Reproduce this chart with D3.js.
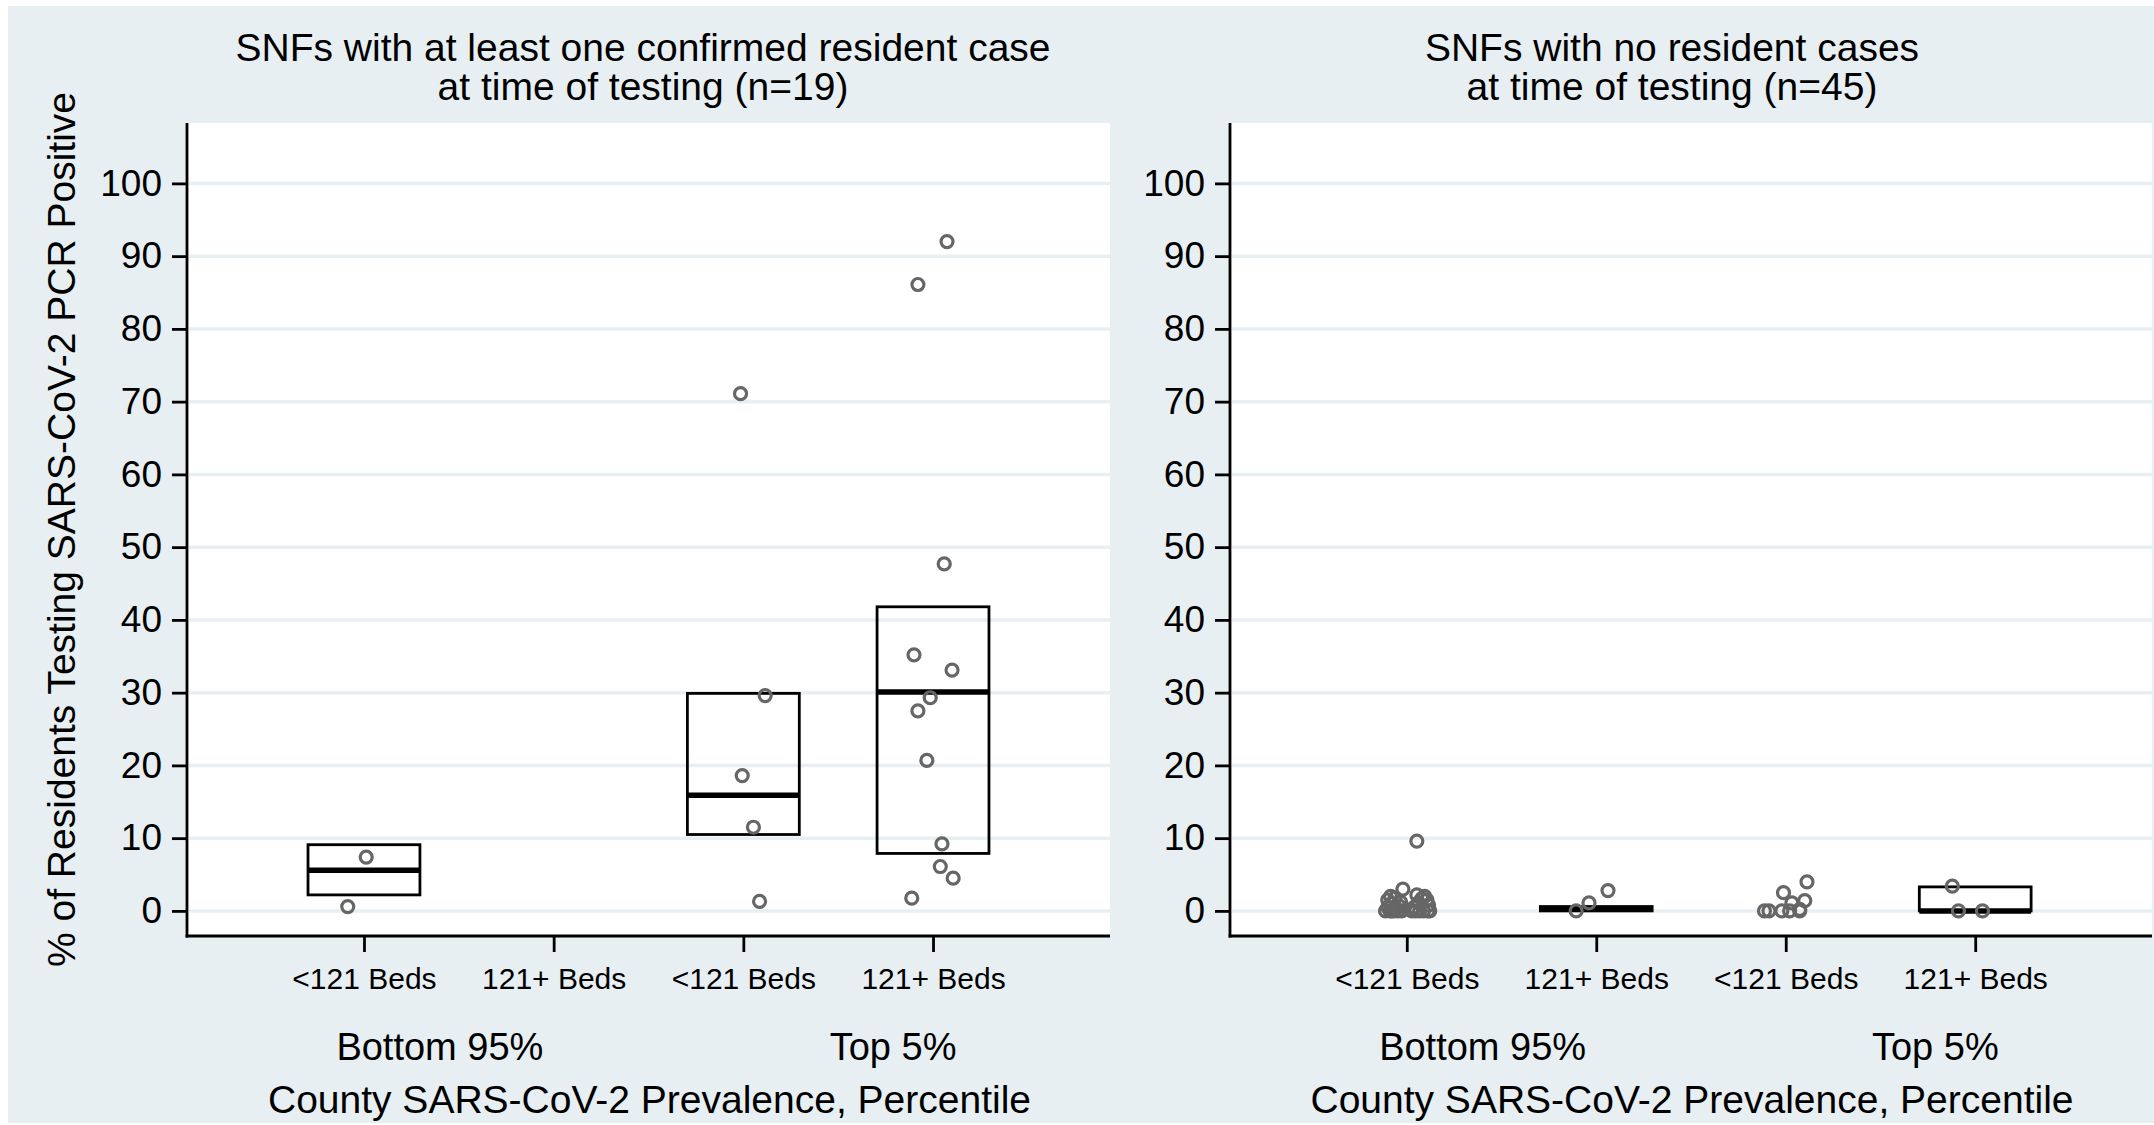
<!DOCTYPE html>
<html>
<head>
<meta charset="utf-8">
<script src="https://cdn.jsdelivr.net/npm/d3@7"></script>
<style>
body { margin: 0; background: #fff; }
svg text { font-family: "Liberation Sans", Arial, Helvetica, sans-serif; fill: #000; }
</style>
</head>
<body>
<div id="graph"></div>
<script>
// categories along the x axis of each panel
var catKeys = ["bot_small", "bot_large", "top_small", "top_large"];
var bedLabels = ["<121 Beds", "121+ Beds", "<121 Beds", "121+ Beds"];
var prevLabels = ["Bottom 95%", "Top 5%"];
var yTicks = [0, 10, 20, 30, 40, 50, 60, 70, 80, 90, 100];

var titleLeft = ["SNFs with at least one confirmed resident case", "at time of testing (n=19)"];
var titleRight = ["SNFs with no resident cases", "at time of testing (n=45)"];
var xTitle = "County SARS-CoV-2 Prevalence, Percentile";
var yTitle = "% of Residents Testing SARS-CoV-2 PCR Positive";

// boxes: [q1, median, q3] per category, null = not drawn
var boxesLeft = [[2.2, 5.6, 9.1], null, [10.5, 15.9, 29.9], [7.9, 30.1, 41.8]];
var boxesRight = [null, [0, 0.3, 0.6], null, [0, 0, 3.3]];

// points: [category, % positive, jitter as share of half box width]
var pointsLeft = [
  [0, 7.4, 0.04], [0, 0.6, -0.29],
  [2, 71.1, -0.05], [2, 29.6, 0.39], [2, 18.6, -0.02], [2, 11.5, 0.18], [2, 1.3, 0.29],
  [3, 92.0, 0.25], [3, 86.1, -0.27], [3, 47.7, 0.20], [3, 35.2, -0.34], [3, 33.1, 0.34],
  [3, 29.3, -0.05], [3, 27.5, -0.27], [3, 20.7, -0.11], [3, 9.2, 0.16], [3, 6.1, 0.13],
  [3, 4.5, 0.36], [3, 1.75, -0.38]
];
var pointsRight = [
  [0, 3.0, -0.07], [0, 9.6, 0.18],
  [0, 0, -0.38], [0, 0, -0.30], [0, 0, -0.23], [0, 0, -0.16], [0, 0, -0.09],
  [0, 0.5, -0.34], [0, 1.0, -0.27], [0, 1.5, -0.34], [0, 1.8, -0.21], [0, 0.7, -0.14],
  [0, 1.2, -0.11], [0, 0.3, -0.20], [0, 2.0, -0.29], [0, 0, -0.27],
  [0, 0, 0.09], [0, 0, 0.16], [0, 0, 0.23], [0, 0, 0.30], [0, 0, 0.38], [0, 0, 0.41],
  [0, 0.5, 0.13], [0, 1.1, 0.21], [0, 1.7, 0.27], [0, 2.2, 0.18], [0, 1.5, 0.36],
  [0, 0.8, 0.39], [0, 2.0, 0.32],
  [1, 0, -0.36], [1, 1.1, -0.13], [1, 2.8, 0.21],
  [2, 0, -0.38], [2, 0, -0.30], [2, 0, -0.07], [2, 0, 0.07], [2, 0, 0.25],
  [2, 2.5, -0.04], [2, 1.1, 0.11], [2, 1.4, 0.34], [2, 4.0, 0.38], [2, 0.2, 0.25],
  [3, 3.4, -0.41], [3, 0, -0.30], [3, 0, 0.13]
];

var w = 2154,
    h = 1125;
var bg = "#e8eff2";
// (window.top is read-only, so use other names)
var plotTop = 123, plotBottom = 936;

var vis = d3.select("#graph").append("svg")
    .attr("width", w)
    .attr("height", h);

vis.append("rect")
    .attr("x", 8).attr("y", 6)
    .attr("width", w - 8).attr("height", h - 8)
    .attr("fill", bg);

var y = d3.scaleLinear().domain([-3.45, 108.3]).range([plotBottom, plotTop]);

function drawPanel(x0, x1, title, titleX, boxes, points, showYTitle) {
  var g = vis.append("g");
  var x = d3.scalePoint().domain(catKeys).range([x0, x1]).padding(0.933);
  var boxW = x.step() * 0.59;
  var jit = d3.scaleLinear().domain([-1, 1]).range([-boxW / 2, boxW / 2]);

  g.append("rect")
      .attr("x", x0).attr("y", plotTop)
      .attr("width", x1 - x0).attr("height", plotBottom - plotTop)
      .attr("fill", "#fff");

  // grid lines
  g.selectAll(".grid")
      .data(yTicks)
      .enter()
      .append("line")
      .attr("x1", x0 + 2).attr("x2", x1)
      .attr("y1", function(d) { return y(d); })
      .attr("y2", function(d) { return y(d); })
      .attr("stroke", bg)
      .attr("stroke-width", 3.5);

  // boxes
  var bx = boxes.map(function(b, i) { return {b: b, k: catKeys[i]}; })
      .filter(function(d) { return d.b; });
  g.selectAll(".box")
      .data(bx)
      .enter()
      .append("rect")
      .attr("x", function(d) { return x(d.k) - boxW / 2; })
      .attr("y", function(d) { return y(d.b[2]); })
      .attr("width", boxW)
      .attr("height", function(d) { return y(d.b[0]) - y(d.b[2]); })
      .attr("fill", "none")
      .attr("stroke", "#000")
      .attr("stroke-width", 2.8);
  g.selectAll(".med")
      .data(bx)
      .enter()
      .append("line")
      .attr("x1", function(d) { return x(d.k) - boxW / 2; })
      .attr("x2", function(d) { return x(d.k) + boxW / 2; })
      .attr("y1", function(d) { return y(d.b[1]); })
      .attr("y2", function(d) { return y(d.b[1]); })
      .attr("stroke", "#000")
      .attr("stroke-width", 5.5);

  // points
  g.selectAll(".pt")
      .data(points)
      .enter()
      .append("circle")
      .attr("cx", function(d) { return x(catKeys[d[0]]) + jit(d[2]); })
      .attr("cy", function(d) { return y(d[1]); })
      .attr("r", 6)
      .attr("fill", "none")
      .attr("stroke", "#666")
      .attr("stroke-width", 3.2);

  // y axis
  var ya = g.append("g")
      .attr("transform", "translate(" + x0 + ",0)")
      .call(d3.axisLeft(y).tickValues(yTicks).tickSize(15).tickPadding(10).tickFormat(d3.format("d")));
  ya.select(".domain").remove();
  ya.selectAll(".tick line").attr("stroke", "#000").attr("stroke-width", 2.8);
  ya.selectAll(".tick text")
      .attr("font-size", "37px")
      .attr("font-family", null)
      .attr("fill", "#000");
  g.append("line")
      .attr("x1", x0).attr("x2", x0)
      .attr("y1", plotTop).attr("y2", plotBottom + 1.4)
      .attr("stroke", "#000").attr("stroke-width", 2.8);

  // x axis
  var xa = g.append("g")
      .attr("transform", "translate(0," + plotBottom + ")")
      .call(d3.axisBottom(x).tickSize(16).tickPadding(16)
        .tickFormat(function(d, i) { return bedLabels[i]; }));
  xa.select(".domain").remove();
  xa.selectAll(".tick line").attr("stroke", "#000").attr("stroke-width", 2.8);
  xa.selectAll(".tick text")
      .attr("font-size", "30px")
      .attr("font-family", null)
      .attr("fill", "#000");
  g.append("line")
      .attr("x1", x0 - 1.4).attr("x2", x1)
      .attr("y1", plotBottom).attr("y2", plotBottom)
      .attr("stroke", "#000").attr("stroke-width", 2.8);

  // prevalence group labels
  var gx = d3.scaleLinear().domain([0, 1]).range([x0, x1]);
  g.selectAll(".grp")
      .data(prevLabels)
      .enter()
      .append("text")
      .attr("x", function(d, i) { return gx(i === 0 ? 0.274 : 0.765); })
      .attr("y", 1060)
      .attr("text-anchor", "middle")
      .attr("font-size", "38px")
      .text(function(d) { return d; });

  g.append("text")
      .attr("x", (x0 + x1) / 2 + 1)
      .attr("y", 1113)
      .attr("text-anchor", "middle")
      .attr("font-size", "39px")
      .text(xTitle);

  g.selectAll(".title")
      .data(title)
      .enter()
      .append("text")
      .attr("x", titleX)
      .attr("y", function(d, i) { return 61 + i * 39; })
      .attr("text-anchor", "middle")
      .attr("font-size", "39px")
      .text(function(d) { return d; });

  if (showYTitle) {
    g.append("text")
        .attr("transform", "translate(75," + ((plotTop + plotBottom) / 2) + ") rotate(-90)")
        .attr("text-anchor", "middle")
        .attr("font-size", "39px")
        .text(yTitle);
  }
}

drawPanel(187, 1110, titleLeft, 643, boxesLeft, pointsLeft, true);
drawPanel(1230, 2152, titleRight, 1672, boxesRight, pointsRight, false);
</script>
</body>
</html>
